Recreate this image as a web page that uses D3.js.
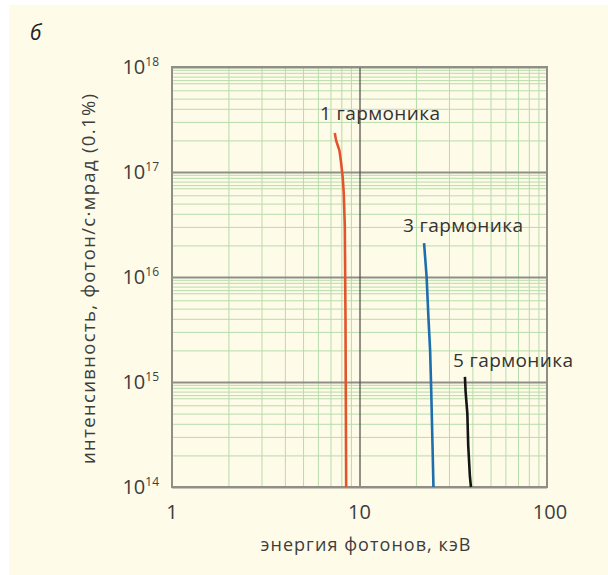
<!DOCTYPE html>
<html>
<head>
<meta charset="utf-8">
<script src="https://cdn.jsdelivr.net/npm/d3@7"></script>
<style>
  body { margin: 0; background: #fff; }
  text { font-family: "Open Sans", sans-serif; fill: #3d3d3d; }
</style>
</head>
<body>
<svg id="chart" width="608" height="575"></svg>
<script>
// energy (keV) / intensity (photon/s·mrad, 0.1%)
const harm1E = [7.38, 7.50, 7.82, 7.98, 8.14, 8.24, 8.35, 8.42, 8.49];
const harm1I = [2.35e17, 2.0e17, 1.6e17, 1.22e17, 8.8e16, 6.3e16, 3.0e16, 3.9e15, 1.0e14];
const harm3E = [22.1, 22.8, 23.3, 23.8, 24.1, 24.5, 24.8];
const harm3I = [2.1e16, 1.0e16, 4.2e15, 2.0e15, 9e14, 2.6e14, 1.0e14];
const harm5E = [36.5, 36.8, 37.6, 38.0, 38.8, 39.3];
const harm5I = [1.12e15, 8.1e14, 5.0e14, 2.5e14, 1.26e14, 1.0e14];

const seriesNames = ['1 гармоника', '3 гармоника', '5 гармоника'];
const seriesColors = ['#e2542c', '#1d6eac', '#151515'];

const xTicks = [1, 10, 100];
const yExps = [14, 15, 16, 17, 18];
const xMinor = [2, 3, 4, 5, 6, 7, 8, 9];
const yMinor = [2, 3, 4, 5, 6, 7, 7.5, 8.1, 8.8, 9.4];

const xTitle = 'энергия фотонов, кэВ';
const yTitle = 'интенсивность, фотон/с·мрад (0.1%)';
const panelLabel = 'б';

const svg = d3.select('#chart');
const margin = {top: 67, left: 172, right: 61, bottom: 88};
const width = +svg.attr('width');
const height = +svg.attr('height');
const innerW = width - margin.left - margin.right;
const innerH = height - margin.top - margin.bottom;

// cream card
svg.append('rect').attr('x', 9).attr('y', 5)
  .attr('width', width - 9).attr('height', height - 5)
  .attr('fill', '#fefbe8');

svg.append('text').attr('x', 30).attr('y', 40)
  .attr('font-size', 21).attr('font-style', 'italic')
  .style('fill', '#222').text(panelLabel);

const x = d3.scaleLog().domain([1, 100]).range([0, innerW]);
const y = d3.scaleLog().domain([1e14, 1e18]).range([innerH, 0]);

const g = svg.append('g').attr('transform', `translate(${margin.left},${margin.top})`);

// minor grid
const xMinorVals = [];
[1, 10].forEach(d => xMinor.forEach(m => xMinorVals.push(d * m)));
const yMinorVals = [];
yExps.slice(0, -1).forEach(e => yMinor.forEach(m => yMinorVals.push(m * Math.pow(10, e))));

g.append('g').call(d3.axisBottom(x).tickValues(xMinorVals).tickSize(innerH).tickFormat(''))
  .call(a => a.select('.domain').remove())
  .selectAll('line').attr('stroke', '#b7dcaa').attr('stroke-width', 1);
g.append('g').call(d3.axisLeft(y).tickValues(yMinorVals).tickSize(-innerW).tickFormat(''))
  .call(a => a.select('.domain').remove())
  .selectAll('line').attr('stroke', '#b7dcaa').attr('stroke-width', 1);

// major grid
g.append('g').call(d3.axisLeft(y).tickValues(yExps.map(e => Math.pow(10, e))).tickSize(-innerW).tickFormat(''))
  .call(a => a.select('.domain').remove())
  .selectAll('line').attr('stroke', '#8f8f88').attr('stroke-width', 1.8);
g.append('g').call(d3.axisBottom(x).tickValues([10]).tickSize(innerH).tickFormat(''))
  .call(a => a.select('.domain').remove())
  .selectAll('line').attr('stroke', '#4a4a46').attr('stroke-width', 1.2);

g.append('rect').attr('width', innerW).attr('height', innerH)
  .attr('fill', 'none').attr('stroke', '#8f8f88').attr('stroke-width', 2);

// tick labels
g.selectAll('.xlab').data(xTicks).join('text')
  .attr('class', 'xlab')
  .attr('x', d => x(d) + (d === 100 ? 3 : 0)).attr('y', innerH + 32)
  .attr('text-anchor', 'middle').attr('font-size', 20)
  .text(d => d);

const ylab = g.selectAll('.ylab').data(yExps).join('text')
  .attr('class', 'ylab')
  .attr('x', -13).attr('y', d => y(Math.pow(10, d)) + 7)
  .attr('text-anchor', 'end').attr('font-size', 20);
ylab.append('tspan').text('10');
ylab.append('tspan').attr('font-size', 12).attr('dy', -8).text(d => d);

// axis titles
g.append('text').attr('x', innerW / 2 + 6).attr('y', innerH + 64)
  .attr('text-anchor', 'middle').attr('font-size', 18)
  .attr('textLength', 210).attr('lengthAdjust', 'spacing').text(xTitle);
g.append('text')
  .attr('transform', `translate(-77,${innerH / 2 + 2}) rotate(-90)`)
  .attr('text-anchor', 'middle').attr('font-size', 18.5)
  .attr('textLength', 370).attr('lengthAdjust', 'spacing').text(yTitle);

// curves
const series = [[harm1E, harm1I], [harm3E, harm3I], [harm5E, harm5I]];
const line = d3.line().x(d => x(d[0])).y(d => y(d[1])).curve(d3.curveStepAfter);
series.forEach((s, i) => {
  const pts = s[0].map((e, j) => [e, s[1][j]]);
  g.append('path').datum(pts)
    .attr('d', d3.line().x(d => x(d[0])).y(d => y(d[1])))
    .attr('fill', 'none')
    .attr('stroke', seriesColors[i])
    .attr('stroke-width', 2.6)
    .attr('stroke-linejoin', 'round');
});

// series labels, placed near the top of each curve
const labelPos = [[148, 53], [231, 165], [281, 300]];
seriesNames.forEach((n, i) => {
  g.append('text')
    .attr('x', labelPos[i][0]).attr('y', labelPos[i][1])
    .attr('font-size', 19).style('fill', '#333')
    .attr('textLength', 120).attr('lengthAdjust', 'spacing')
    .text(n);
});
</script>
</body>
</html>
